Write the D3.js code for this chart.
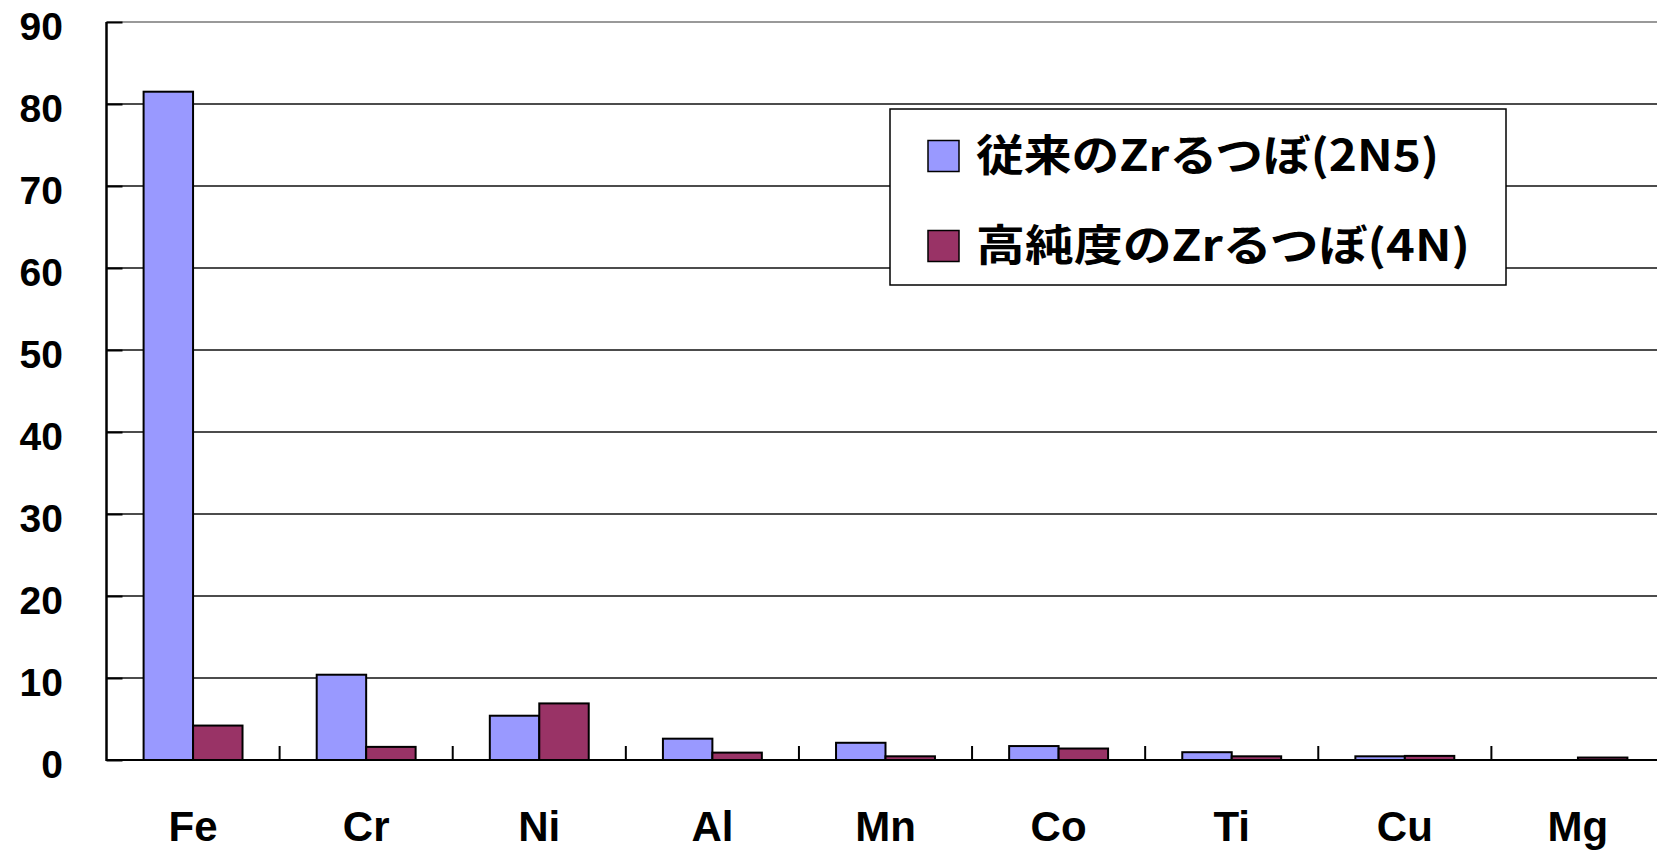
<!DOCTYPE html>
<html>
<head>
<meta charset="utf-8">
<script src="https://cdn.jsdelivr.net/npm/d3@7"></script>
<style>
  body { margin: 0; background: #fff; }
  svg { display: block; }
</style>
</head>
<body>
<svg id="chart" width="1657" height="851"></svg>
<script>
// data
const categories = ['Fe', 'Cr', 'Ni', 'Al', 'Mn', 'Co', 'Ti', 'Cu', 'Mg'];
const conventional = [81.5, 10.4, 5.4, 2.6, 2.1, 1.7, 0.95, 0.45, 0];
const highPurity = [4.2, 1.6, 6.9, 0.9, 0.45, 1.4, 0.45, 0.5, 0.3];
const seriesNames = ['従来のZrるつぼ(2N5)', '高純度のZrるつぼ(4N)'];
const seriesColors = ['#9999FF', '#993366'];
const yTicks = [0, 10, 20, 30, 40, 50, 60, 70, 80, 90];

const svg = d3.select('#chart');
const plot = { left: 106.5, right: 1664.5, top: 22, bottom: 760 };

const x = d3.scaleBand()
  .domain(categories)
  .range([plot.left, plot.right])
  .paddingInner(1.5 / 3.5)
  .paddingOuter(0.75 / 3.5);
const xSeries = d3.scaleBand().domain([0, 1]).range([0, x.bandwidth()]);
const y = d3.scaleLinear().domain([0, 90]).range([plot.bottom, plot.top]);

// plot border (top, grey)
svg.append('line')
  .attr('x1', plot.left).attr('x2', plot.right)
  .attr('y1', y(90)).attr('y2', y(90))
  .attr('stroke', '#999').attr('stroke-width', 2);

// gridlines
svg.append('g').selectAll('line')
  .data(yTicks.filter(d => d > 0 && d < 90))
  .join('line')
  .attr('x1', plot.left).attr('x2', plot.right)
  .attr('y1', d => y(d)).attr('y2', d => y(d))
  .attr('stroke', '#111').attr('stroke-width', 1.6);

// y axis with inward ticks
const yAxis = svg.append('g')
  .attr('transform', `translate(${plot.left},0)`)
  .call(d3.axisRight(y).tickValues(yTicks).tickSize(16).tickFormat(''));
yAxis.select('.domain').remove();
yAxis.selectAll('line').attr('stroke', '#000').attr('stroke-width', 2);
svg.append('line')
  .attr('x1', plot.left).attr('x2', plot.left)
  .attr('y1', plot.top).attr('y2', plot.bottom + 1)
  .attr('stroke', '#000').attr('stroke-width', 2.5);

svg.append('g').selectAll('text')
  .data(yTicks)
  .join('text')
  .attr('x', 63)
  .attr('y', d => y(d) + 4)
  .attr('text-anchor', 'end')
  .attr('dominant-baseline', 'central')
  .attr('font-family', '"Liberation Sans", Arial, sans-serif')
  .attr('font-weight', 'bold')
  .attr('font-size', 39)
  .text(d => d);

// bars
const rows = categories.map((c, i) => ({ cat: c, vals: [conventional[i], highPurity[i]] }));
svg.append('g').selectAll('g')
  .data(rows)
  .join('g')
  .attr('transform', d => `translate(${x(d.cat)},0)`)
  .selectAll('rect')
  .data(d => d.vals.map((v, s) => ({ v, s })).filter(d => d.v > 0))
  .join('rect')
  .attr('x', d => xSeries(d.s))
  .attr('y', d => y(d.v))
  .attr('width', xSeries.bandwidth())
  .attr('height', d => y(0) - y(d.v))
  .attr('fill', d => seriesColors[d.s])
  .attr('stroke', '#000')
  .attr('stroke-width', 2);

// x axis line + category separator ticks
svg.append('line')
  .attr('x1', plot.left).attr('x2', plot.right)
  .attr('y1', y(0)).attr('y2', y(0))
  .attr('stroke', '#000').attr('stroke-width', 2);
svg.append('g').selectAll('line')
  .data(d3.range(1, categories.length))
  .join('line')
  .attr('x1', i => plot.left + i * x.step())
  .attr('x2', i => plot.left + i * x.step())
  .attr('y1', y(0)).attr('y2', y(0) - 14)
  .attr('stroke', '#000').attr('stroke-width', 2);

svg.append('g').selectAll('text')
  .data(categories)
  .join('text')
  .attr('x', d => x(d) + x.bandwidth() / 2)
  .attr('y', 841)
  .attr('text-anchor', 'middle')
  .attr('font-family', '"Liberation Sans", Arial, sans-serif')
  .attr('font-weight', 'bold')
  .attr('font-size', 42)
  .text(d => d);

// legend
const legend = svg.append('g');
legend.append('rect')
  .attr('x', 890).attr('y', 109)
  .attr('width', 616).attr('height', 176)
  .attr('fill', '#fff').attr('stroke', '#000').attr('stroke-width', 1.5);
const legendWidths = [463, 494];
const item = legend.selectAll('g.item')
  .data(seriesNames)
  .join('g')
  .attr('class', 'item')
  .attr('transform', (d, i) => `translate(0,${156 + i * 90})`);
item.append('rect')
  .attr('x', 928).attr('y', -15.5)
  .attr('width', 31).attr('height', 31)
  .attr('fill', (d, i) => seriesColors[i])
  .attr('stroke', '#000').attr('stroke-width', 1.5);
item.append('text')
  .attr('x', 976)
  .attr('y', -4)
  .attr('dominant-baseline', 'central')
  .attr('font-family', '"Noto Sans CJK JP", sans-serif')
  .attr('font-weight', 'bold')
  .attr('font-size', 43)
  .attr('textLength', (d, i) => legendWidths[i])
  .attr('lengthAdjust', 'spacingAndGlyphs')
  .text(d => d);
</script>
</body>
</html>
